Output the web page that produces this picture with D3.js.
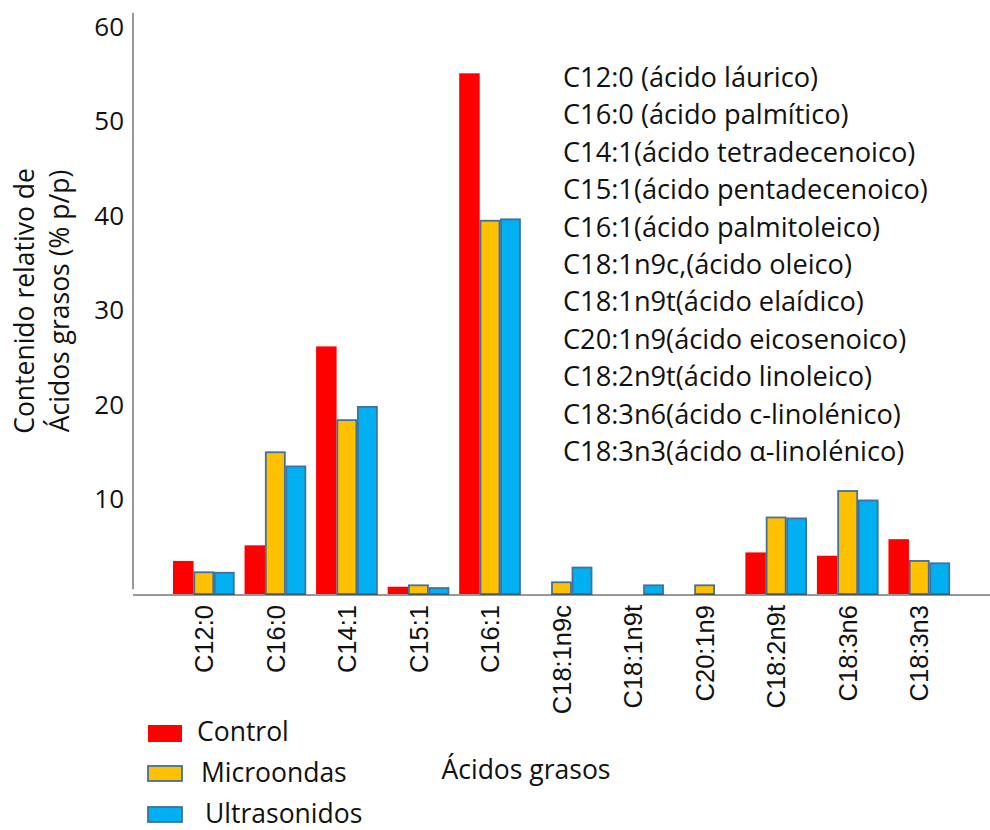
<!DOCTYPE html>
<html>
<head>
<meta charset="utf-8">
<script src="https://cdn.jsdelivr.net/npm/d3@7"></script>
<style>
  html, body { margin: 0; padding: 0; background: #fff; }
  svg { display: block; }
</style>
</head>
<body>
<svg id="chart" width="990" height="830"></svg>
<script>
// ---------- data ----------
const categories = ["C12:0","C16:0","C14:1","C15:1","C16:1","C18:1n9c","C18:1n9t","C20:1n9","C18:2n9t","C18:3n6","C18:3n3"];
const seriesNames = ["Control","Microondas","Ultrasonidos"];
const control      = [3.5, 5.15, 26.2, 0.77, 55.1, 0,   0,    0,    4.4, 4.05, 5.8];
const microondas   = [2.3, 15.0, 18.4, 0.92, 39.5, 1.24, 0,   0.92, 8.1, 10.9, 3.5];
const ultrasonidos = [2.25,13.5, 19.8, 0.63, 39.65,2.8, 0.92, 0,    8.0, 9.9,  3.25];
const yTicks = [10, 20, 30, 40, 50, 60];
const annotations = [
  "C12:0 (ácido láurico)",
  "C16:0 (ácido palmítico)",
  "C14:1(ácido tetradecenoico)",
  "C15:1(ácido pentadecenoico)",
  "C16:1(ácido palmitoleico)",
  "C18:1n9c,(ácido oleico)",
  "C18:1n9t(ácido elaídico)",
  "C20:1n9(ácido eicosenoico)",
  "C18:2n9t(ácido linoleico)",
  "C18:3n6(ácido c-linolénico)",
  "C18:3n3(ácido α-linolénico)"
];
const yTitleLines = ["Contenido relativo de", "Ácidos grasos (% p/p)"];
const xTitle = "Ácidos grasos";

// ---------- styles ----------
const fills   = {Control: "#FF0000", Microondas: "#FFC000", Ultrasonidos: "#00B0F0"};
const strokes = {Control: "none",    Microondas: "#41719C", Ultrasonidos: "#41719C"};
const textFont = "'Open Sans', sans-serif";
const tickFont = "'Liberation Sans', Arial, sans-serif";

const table = categories.map((c, i) => ({
  cat: c,
  Control: control[i],
  Microondas: microondas[i],
  Ultrasonidos: ultrasonidos[i]
}));

const svg = d3.select("#chart");

const x = d3.scaleBand().domain(categories).range([168, 955]).paddingInner(0.14).paddingOuter(0.07);
const xs = d3.scaleBand().domain(seriesNames).range([0, x.bandwidth()]).padding(0);
const y = d3.scaleLinear().domain([0, 60]).range([594, 27]);

// bars
const groups = svg.append("g").selectAll("g")
  .data(table).join("g")
  .attr("transform", d => `translate(${x(d.cat)},0)`);

groups.selectAll("rect")
  .data(d => seriesNames.map(s => ({s, v: d[s]})).filter(e => e.v > 0))
  .join("rect")
  .attr("x", e => xs(e.s) + (e.s === "Control" ? 0 : 0.75))
  .attr("width", e => xs.bandwidth() - (e.s === "Control" ? 0 : 1.5))
  .attr("y", e => y(e.v))
  .attr("height", e => y(0) - y(e.v))
  .attr("fill", e => fills[e.s])
  .attr("stroke", e => strokes[e.s])
  .attr("stroke-width", 1.8);

// y axis
const yAxisG = svg.append("g")
  .attr("transform", "translate(133,0)")
  .call(d3.axisLeft(y).tickValues(yTicks).tickSize(0).tickPadding(9).tickFormat(d3.format("d")));
yAxisG.select(".domain").remove();
yAxisG.selectAll("text")
  .attr("font-family", textFont)
  .attr("font-size", 26)
  .attr("fill", "#111");
svg.append("line")
  .attr("x1", 133).attr("x2", 133)
  .attr("y1", y(61.5)).attr("y2", y(0.5))
  .attr("stroke", "#555").attr("stroke-width", 1.2);

// x axis
const xAxisG = svg.append("g")
  .attr("transform", `translate(0,${y(0) + 1})`)
  .call(d3.axisBottom(x).tickSize(0).tickPadding(0));
xAxisG.select(".domain").remove();
svg.append("line")
  .attr("x1", 133).attr("x2", 990)
  .attr("y1", y(0) + 1).attr("y2", y(0) + 1)
  .attr("stroke", "#333").attr("stroke-width", 1.2);
xAxisG.selectAll("text")
  .attr("font-family", tickFont)
  .attr("font-size", 25.5)
  .attr("fill", "#111")
  .attr("text-anchor", "end")
  .attr("transform", "rotate(-90)")
  .attr("x", -10)
  .attr("y", 0)
  .attr("dy", "0.36em");

// y title
svg.append("text")
  .attr("transform", "translate(0,301) rotate(-90)")
  .attr("font-family", textFont)
  .attr("font-size", 26.5)
  .attr("fill", "#111")
  .attr("text-anchor", "middle")
  .selectAll("tspan")
  .data(yTitleLines).join("tspan")
  .attr("x", 0)
  .attr("y", (d, i) => 34 + i * 35)
  .text(d => d);

// annotation block
svg.append("g").selectAll("text")
  .data(annotations).join("text")
  .attr("x", 563)
  .attr("y", (d, i) => 87 + i * 37.4)
  .attr("font-family", textFont)
  .attr("font-size", 27.2)
  .attr("fill", "#111")
  .text(d => d);

// x title
svg.append("text")
  .attr("x", 526).attr("y", 779)
  .attr("text-anchor", "middle")
  .attr("font-family", textFont)
  .attr("font-size", 26.5)
  .attr("fill", "#111")
  .text(xTitle);

// legend
const legend = svg.append("g").selectAll("g")
  .data(seriesNames).join("g")
  .attr("transform", (d, i) => `translate(148,${725 + i * 41})`);
legend.append("rect")
  .attr("width", 34)
  .attr("height", d => d === "Control" ? 17 : 15)
  .attr("fill", d => fills[d])
  .attr("stroke", d => strokes[d])
  .attr("stroke-width", 1.8);
legend.append("text")
  .attr("x", (d, i) => 49 + i * 4)
  .attr("y", 16)
  .attr("font-family", textFont)
  .attr("font-size", 26.5)
  .attr("fill", "#111")
  .text(d => d);
</script>
</body>
</html>
